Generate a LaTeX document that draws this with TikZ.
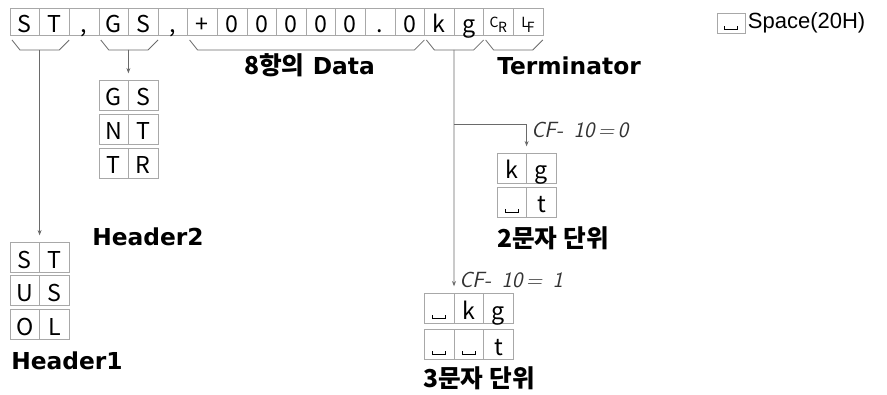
\documentclass[tikz,border=0pt]{standalone}
\usepackage{fontspec}
\setmainfont{DejaVu Sans}
\newfontfamily\cellfont{Noto Sans CJK KR}
\newfontfamily\korfont{Noto Sans CJK KR}
\newfontfamily\legendfont{Liberation Sans}
\usepackage{tikz}
\usetikzlibrary{arrows.meta,positioning,calc}
\usepackage{xcolor}
\definecolor{cellline}{HTML}{A8A8A8}
\definecolor{linegray}{HTML}{6A6A6A}

\newcommand{\spsym}{\rule{0.6pt}{3pt}\rule{9pt}{0.6pt}\rule{0.6pt}{3pt}}
\newcommand{\crsym}{{\fontsize{10.5}{10}\selectfont\raisebox{3.5pt}{C}\kern-0.3pt R}}
\newcommand{\lfsym}{{\fontsize{10.5}{10}\selectfont\raisebox{3.5pt}{L}\kern-1.5pt F}}
\newcommand{\lblfont}{\fontsize{17.5}{20}\selectfont\bfseries}

\begin{document}
\begin{tikzpicture}[
  x=0.75pt, y=-0.75pt,
  cell/.style={draw=cellline, minimum width=22.2pt, minimum height=20.25pt,
               inner sep=0pt, outer sep=0pt, text height=16.5pt, text depth=0pt,
               font=\cellfont\fontsize{17.4}{18}\selectfont},
  ubox/.style={cell, minimum height=22.5pt},
  bracket/.style={draw=linegray, line width=0.6pt},
  arr/.style={draw=linegray, line width=0.6pt, -{Stealth[length=4pt,width=3pt]}, shorten >=5pt},
  lbl/.style={font=\lblfont, inner sep=0pt, anchor=west},
  korlbl/.style={lbl, font=\korfont\fontsize{18.5}{20}\selectfont\bfseries},
  cflbl/.style={font=\sffamily\itshape\fontsize{16.5}{18}\selectfont, inner sep=0pt,
                anchor=west, text=black!80},
]
  \useasboundingbox (0,0) rectangle (887,395);

  % data string
  \foreach \ch [count=\i] in {S,T,{,},G,S,{,},+,0,0,0,0,0,.,0,k,g,\crsym,\lfsym}
    \node[cell] (c\i) at ({10+29.6*(\i-0.5)},21.5) {\ch};

  \foreach \a/\b in {1/2,4/5,7/14,15/16,17/18}
    \draw[bracket] ($(c\a.south west)+(2,5)$) -- ($(c\a.south west)+(10,15)$)
      -- ($(c\b.south east)+(-10,15)$) -- ($(c\b.south east)+(0,5)$);

  \coordinate (h1mid) at ($(c1.south east)+(0,15)$);
  \coordinate (h2mid) at ($(c4.south east)+(0,15)$);
  \coordinate (unitmid) at ($(c15.south east)+(0,15)$);
  \coordinate (unitfork) at ($(unitmid)+(0,74)$);

  \node[lbl, anchor=center] (datalbl) at (309.5,65.5) {{\korfont\fontsize{18.5}{20}\selectfont 8항의} Data};
  \node[lbl] (termlbl) at (497,65.5) {Terminator};

  % Header1
  \foreach \l/\r [count=\k] in {S/T,U/S,O/L} {
    \node[ubox, anchor=north west] (h1l\k) at (10,{242+33.5*(\k-1)}) {\l};
    \node[ubox, right=0pt of h1l\k] (h1r\k) {\r};
  }
  \node[lbl] (hdr1) at (11,361) {Header1};

  % Header2
  \foreach \l/\r [count=\k] in {G/S,N/T,T/R} {
    \node[ubox, anchor=north west] (h2l\k) at (98.8,{80+34*(\k-1)}) {\l};
    \node[ubox, right=0pt of h2l\k] (h2r\k) {\r};
  }
  \node[lbl] (hdr2) at (92,236.5) {Header2};

  % 2-char unit
  \foreach \l/\r [count=\k] in {k/g,\spsym/t} {
    \node[ubox, anchor=north west] (u2l\k) at (497,{153+34*(\k-1)}) {\l};
    \node[ubox, right=0pt of u2l\k] (u2r\k) {\r};
  }
  \node[cflbl] (cf0) at (531,130) {CF-\, 10\,=\,0};
  \node[korlbl] (unit2lbl) at (497,238) {2문자 단위};

  % 3-char unit
  \foreach \l/\m/\r [count=\k] in {\spsym/k/g,\spsym/\spsym/t} {
    \node[ubox, anchor=north west] (u3l\k) at (424.4,{293+36*(\k-1)}) {\l};
    \node[ubox, right=0pt of u3l\k] (u3m\k) {\m};
    \node[ubox, right=0pt of u3m\k] (u3r\k) {\r};
  }
  \node[cflbl] (cf1) at (459,280) {CF-\, 10\,=\, 1};
  \node[korlbl] (unit3lbl) at (423,378) {3문자 단위};

  \draw[arr] (h1mid) -- (h1l1.north east);
  \draw[arr] (h2mid) -- (h2l1.north east);
  \draw[arr] (unitmid) -- (u3l1.north east);
  \draw[arr] (unitfork) -| (u2l1.north east);

  % legend
  \node[cell, minimum width=21pt, minimum height=15pt, text height=10pt] (spbox) at (731,23) {\spsym};
  \node[right=2pt of spbox, inner sep=0pt, font=\legendfont\fontsize{16.5}{18}\selectfont] (splbl) {Space(20H)};
\end{tikzpicture}
\end{document}
